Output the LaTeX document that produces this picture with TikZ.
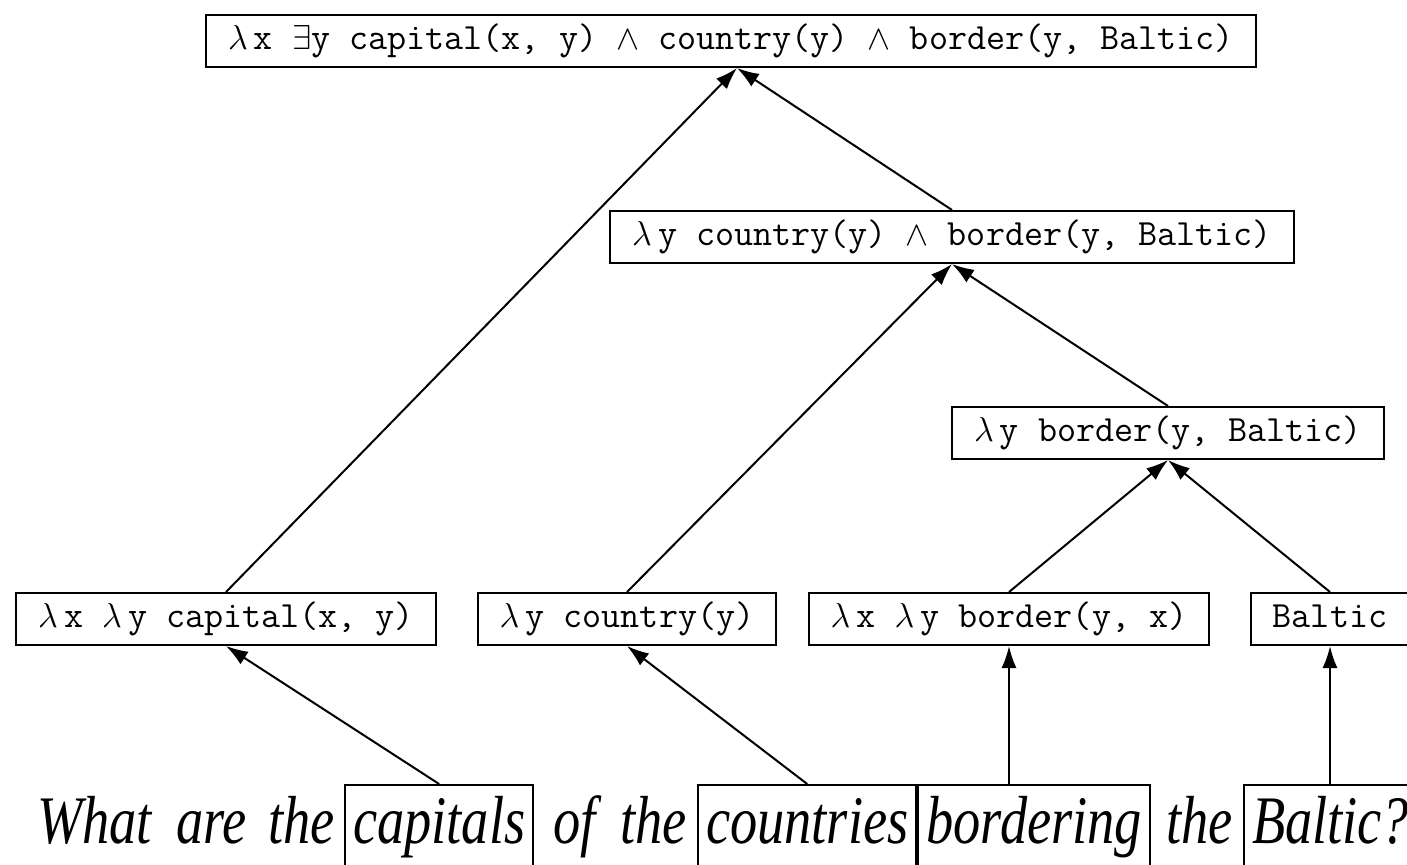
\documentclass[tikz,border=0pt]{standalone}
\usepackage{amsmath}
\usepackage{fontspec}
\newfontfamily\sentfont[FakeStretch=0.8]{Liberation Serif}
\usetikzlibrary{arrows.meta}

\begin{document}
\begin{tikzpicture}[x=0.5pt, y=-0.5pt, line width=1pt,
    lf/.style={draw, font=\fontsize{18.5}{20}\selectfont\ttfamily, inner xsep=11pt, inner ysep=0pt, minimum height=26pt, text height=12pt, text depth=4pt},
    wd/.style={font=\fontsize{34}{38}\selectfont\sentfont\itshape, anchor=base west, inner xsep=2.5pt, inner ysep=0pt, text height=29pt, text depth=20pt},
    wbox/.style={wd, draw, inner xsep=4pt},
    arr/.style={-{Latex[length=11pt,width=7.5pt]}}]
\useasboundingbox (0,0) rectangle (1407,864);

% logical forms
\node[lf] (top) at (731, 41) {$\lambda$\,x $\exists$y capital(x, y) $\wedge$ country(y) $\wedge$ border(y, Baltic)};
\node[lf] (mid) at (952, 237) {$\lambda$\,y country(y) $\wedge$ border(y, Baltic)};
\node[lf] (bord) at (1168, 433) {$\lambda$\,y border(y, Baltic)};
\node[lf] (capf) at (226, 619) {$\lambda$\,x $\lambda$\,y capital(x, y)};
\node[lf] (ctry) at (627, 619) {$\lambda$\,y country(y)};
\node[lf] (bfun) at (1009, 619) {$\lambda$\,x $\lambda$\,y border(y, x)};
\node[lf] (balt) at (1330, 619) {Baltic};

% the sentence
\node[wd] (w1) at (31, 843) {What};
\node[wd] (w2) at (170, 843) {are};
\node[wd] (w3) at (262, 843) {the};
\node[wbox] (wcap) at (344, 843) {capitals};
\node[wd] (w5) at (547, 843) {of};
\node[wd] (w6) at (614, 843) {the};
\node[wbox] (wctry) at (697, 843) {countries};
\node[wbox, at=(wctry.base east)] (wbord) {bordering};
\node[wd] (w9) at (1160, 843) {the};
\node[wbox] (wbalt) at (1243, 843) {Baltic?};

% lexicon
\draw[arr] (wcap.north) -- (capf.south);
\draw[arr] (wctry.north) -- (ctry.south);
\draw[arr] (wbord.north -| bfun.south) -- (bfun.south);
\draw[arr] (wbalt.north -| balt.south) -- (balt.south);

% composition
\draw[arr] (bfun.north) -- (bord.south);
\draw[arr] (balt.north) -- (bord.south);
\draw[arr] (ctry.north) -- (mid.south);
\draw[arr] (bord.north) -- (mid.south);
\draw[arr] (capf.north) -- ([xshift=3pt]top.south);
\draw[arr] (mid.north) -- ([xshift=3pt]top.south);
\end{tikzpicture}
\end{document}
